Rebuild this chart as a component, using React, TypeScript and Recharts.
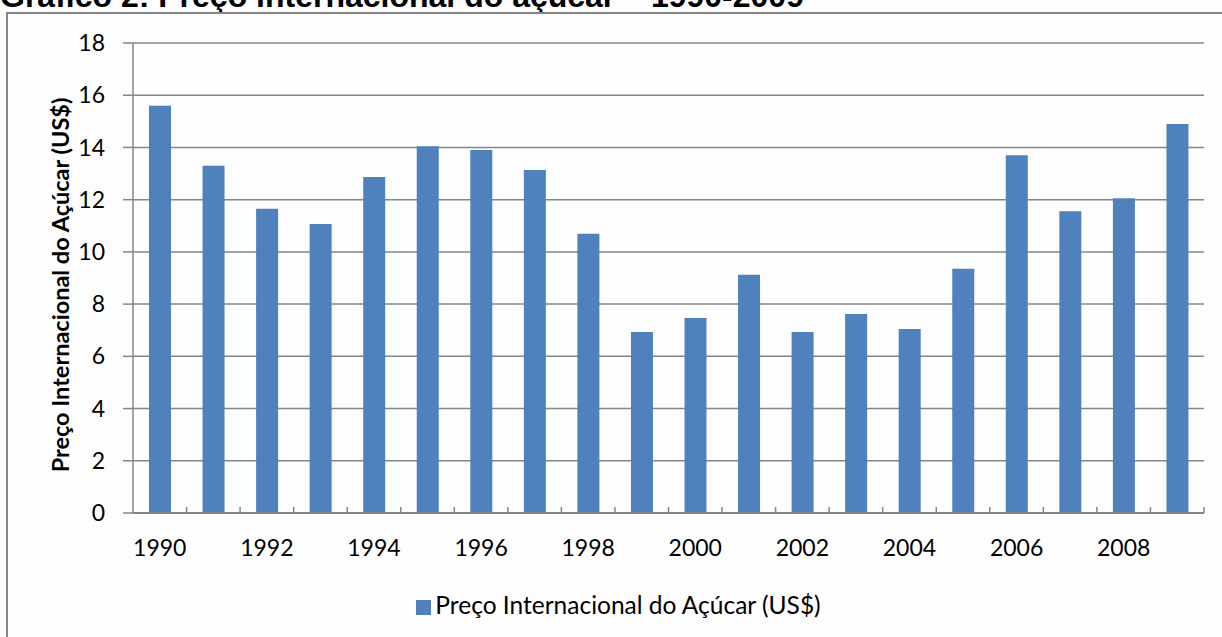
import { BarChart, Bar, XAxis, YAxis, CartesianGrid, Legend } from "recharts";

const years = [
  "1990", "1991", "1992", "1993", "1994", "1995", "1996", "1997", "1998", "1999",
  "2000", "2001", "2002", "2003", "2004", "2005", "2006", "2007", "2008", "2009",
];
const prices = [
  15.6, 13.3, 11.65, 11.07, 12.87, 14.05, 13.9, 13.14, 10.69, 6.93,
  7.47, 9.12, 6.93, 7.62, 7.05, 9.35, 13.7, 11.56, 12.05, 14.9,
];
const yTicks = [0, 2, 4, 6, 8, 10, 12, 14, 16, 18];
const seriesName = "Preço Internacional do Açúcar (US$)";
const title = "Gráfico 2: Preço internacional do açúcar – 1990-2009";

const data = years.map((year, i) => ({ year, price: prices[i] }));

const W = 1222;
const H = 637;
const MARGIN = { top: 43, right: 18, bottom: 44, left: 43 };
const Y_AXIS_W = 90;
const FONT = "Lato, 'Open Sans', sans-serif";
const GRAY = "#868686";
const PLOT_W = W - MARGIN.left - MARGIN.right - Y_AXIS_W;

function YearTick(props: any) {
  const { x, y, payload, index } = props;
  const half = payload?.offset || PLOT_W / years.length / 2;
  return (
    <g>
      <line x1={x + half} x2={x + half} y1={y} y2={y - 6} stroke={GRAY} strokeWidth={1.5} />
      {index % 2 === 0 && (
        <text x={x} y={y + 27} dy="0.71em" textAnchor="middle" fill="#000" fontSize={23} fontFamily={FONT}>
          {payload.value}
        </text>
      )}
    </g>
  );
}

// rotated y axis title, a bit below the plot centre like the original
function AxisTitle(props: any) {
  const vb = props.viewBox || { x: 0, y: 0, width: 0, height: 0 };
  const cx = vb.x + 17;
  const cy = vb.y + vb.height / 2 + 7;
  return (
    <text
      x={cx}
      y={cy}
      transform={`rotate(-90, ${cx}, ${cy})`}
      textAnchor="middle"
      dominantBaseline="central"
      fontWeight="bold"
      fontSize={23.5}
      fontFamily={FONT}
      fill="#000"
    >
      {seriesName}
    </text>
  );
}

export default function App() {
  return (
    <div
      style={{
        position: "fixed",
        left: 0,
        top: 0,
        width: W,
        height: H,
        overflow: "hidden",
        background: "#fdfdfd",
      }}
    >
      <div
        style={{
          position: "absolute",
          left: 0,
          top: -20,
          fontFamily: "'Liberation Sans', Arial, sans-serif",
          fontWeight: "bold",
          fontSize: 32,
          lineHeight: "32px",
          whiteSpace: "nowrap",
          color: "#000",
        }}
      >
        {title}
      </div>
      <div
        style={{
          position: "absolute",
          left: 6,
          top: 12,
          width: 1400,
          height: 800,
          border: `2px solid ${GRAY}`,
        }}
      />
      <div style={{ position: "absolute", left: 0, top: 0 }}>
        <BarChart width={W} height={H} data={data} margin={MARGIN}>
          <CartesianGrid vertical={false} stroke={GRAY} strokeWidth={1.5} />
          <XAxis
            dataKey="year"
            height={50}
            interval={0}
            tickSize={0}
            tickMargin={0}
            tickLine={false}
            axisLine={{ stroke: GRAY, strokeWidth: 2 }}
            tick={<YearTick />}
          />
          <YAxis
            width={Y_AXIS_W}
            domain={[0, 18]}
            ticks={yTicks}
            interval={0}
            tickSize={10}
            tickMargin={18}
            tickLine={{ stroke: GRAY, strokeWidth: 1.5 }}
            axisLine={{ stroke: GRAY, strokeWidth: 1.5 }}
            tick={{ fill: "#000", fontSize: 23, fontFamily: FONT }}
            label={{ value: seriesName, content: <AxisTitle /> }}
          />
          <Legend
            verticalAlign="bottom"
            height={30}
            iconType="square"
            iconSize={15}
            wrapperStyle={{ bottom: 17, fontFamily: FONT, fontSize: 24.5 }}
            formatter={(value) => <span style={{ color: "#000" }}>{value}</span>}
          />
          <Bar dataKey="price" name={seriesName} fill="#4F81BD" barSize={22} isAnimationActive={false} />
        </BarChart>
      </div>
    </div>
  );
}
